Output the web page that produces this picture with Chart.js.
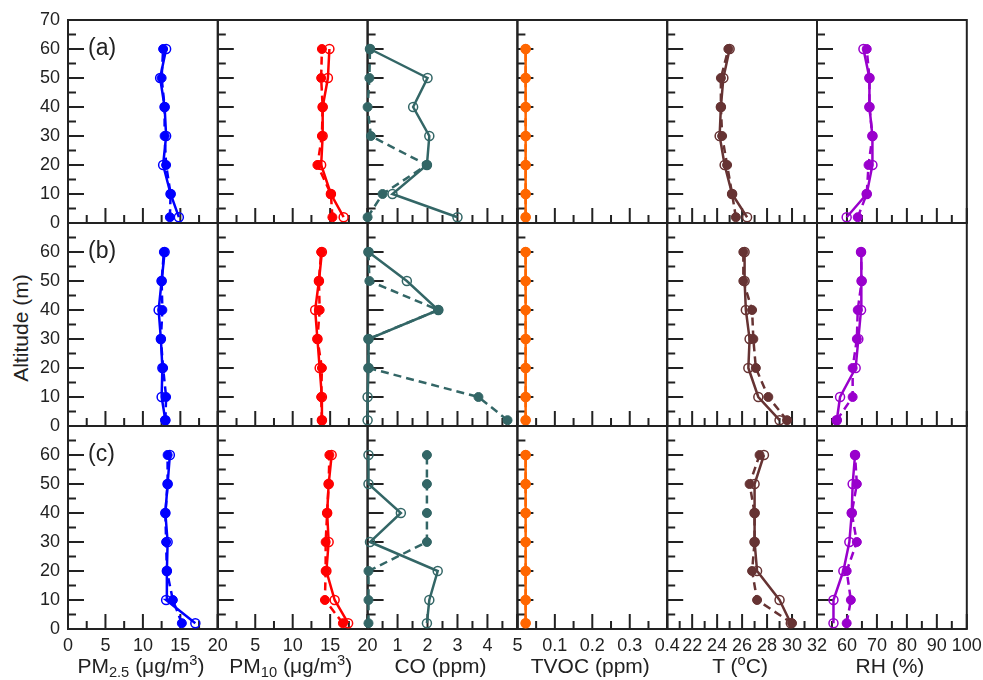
<!DOCTYPE html>
<html>
<head>
<meta charset="utf-8">
<script src="https://cdn.jsdelivr.net/npm/chart.js@4.4.0/dist/chart.umd.min.js"></script>
<style>
  body { margin: 0; background: #fff; }
  #wrap { position: relative; width: 983px; height: 680px; font-family: "Liberation Sans", Arial, sans-serif; color: #222; }
  #wrap canvas { position: absolute; left: 0; top: 0; }
  .xt { position: absolute; top: 655px; font-size: 21px; line-height: 22px; white-space: nowrap; transform: translateX(-50%); }
  .xt sub, .xt sup { font-size: 70%; line-height: 0; }
  .xt sub { vertical-align: -0.25em; }
  .xt sup { vertical-align: 0.55em; }
  .pl { position: absolute; left: 88px; font-size: 23px; line-height: 22px; }
  #ytitle { position: absolute; left: 21px; top: 328px; font-size: 21px; white-space: nowrap; transform: translate(-50%, -50%) rotate(-90deg); }
</style>
</head>
<body>
<div id="wrap">
  <div id="ytitle">Altitude (m)</div>
</div>
<script>
// altitude of each sample (m), bottom to top
const altitudes = [2, 10, 20, 30, 40, 50, 60];

// filled markers (dashed line) and open markers (solid line), rows (a) (b) (c)
const pm25_a_filled = [13.6, 13.7, 13.1, 12.9, 12.9, 12.5, 12.7];
const pm25_a_open   = [14.8, 13.7, 12.7, 13.1, 12.9, 12.3, 13.1];
const pm25_b_filled = [13.0, 13.1, 12.7, 12.4, 12.6, 12.5, 12.8];
const pm25_b_open   = [13.0, 12.5, 12.6, 12.4, 12.1, 12.5, 12.9];
const pm25_c_filled = [15.2, 14.0, 13.2, 13.1, 13.0, 13.3, 13.3];
const pm25_c_open   = [17.0, 13.1, 13.2, 13.3, 13.0, 13.3, 13.6];

const pm10_a_filled = [15.3, 15.1, 13.3, 13.9, 14.0, 13.8, 13.9];
const pm10_a_open   = [16.8, 15.1, 13.8, 14.0, 14.0, 14.7, 14.9];
const pm10_b_filled = [13.9, 13.8, 13.9, 13.3, 13.6, 13.5, 13.8];
const pm10_b_open   = [13.9, 13.9, 13.6, 13.3, 13.0, 13.5, 13.9];
const pm10_c_filled = [16.7, 14.3, 14.4, 14.4, 14.6, 14.8, 14.9];
const pm10_c_open   = [17.4, 15.6, 14.5, 14.8, 14.6, 14.8, 15.2];

const co_a_filled = [0.0, 0.5, 1.98, 0.11, 0.0, 0.06, 0.08];
const co_a_open   = [3.0, 0.83, 1.98, 2.06, 1.52, 2.0, 0.08];
const co_b_filled = [4.67, 3.7, 0.03, 0.03, 2.36, 0.06, 0.03];
const co_b_open   = [0.0, 0.0, 0.03, 0.03, 2.36, 1.31, 0.03];
const co_c_filled = [0.03, 0.03, 0.03, 1.98, 1.98, 1.98, 1.98];
const co_c_open   = [1.98, 2.06, 2.34, 0.08, 1.11, 0.03, 0.03];

const tvoc_a_filled = [0.022, 0.022, 0.022, 0.022, 0.022, 0.022, 0.022];
const tvoc_a_open   = [0.022, 0.022, 0.022, 0.022, 0.022, 0.022, 0.022];
const tvoc_b_filled = [0.022, 0.022, 0.022, 0.022, 0.022, 0.022, 0.022];
const tvoc_b_open   = [0.022, 0.022, 0.022, 0.022, 0.022, 0.022, 0.022];
const tvoc_c_filled = [0.022, 0.022, 0.022, 0.022, 0.022, 0.022, 0.022];
const tvoc_c_open   = [0.022, 0.022, 0.022, 0.022, 0.022, 0.022, 0.022];

const t_a_filled = [25.5, 25.2, 24.8, 24.4, 24.3, 24.3, 24.9];
const t_a_open   = [26.4, 25.2, 24.6, 24.2, 24.3, 24.5, 25.0];
const t_b_filled = [29.6, 28.1, 27.1, 26.9, 26.8, 26.1, 26.1];
const t_b_open   = [29.0, 27.3, 26.5, 26.6, 26.3, 26.2, 26.2];
const t_c_filled = [30.0, 27.2, 26.8, 27.0, 27.0, 26.6, 27.4];
const t_c_open   = [29.9, 29.0, 27.2, 27.0, 27.0, 27.0, 27.75];

const rh_a_filled = [63.6, 66.6, 67.2, 68.5, 67.5, 67.5, 66.6];
const rh_a_open   = [59.9, 66.6, 68.5, 68.5, 67.5, 67.5, 65.5];
const rh_b_filled = [56.6, 61.9, 61.9, 63.3, 63.6, 64.9, 64.7];
const rh_b_open   = [56.6, 57.7, 62.9, 63.8, 64.7, 64.9, 64.7];
const rh_c_filled = [59.9, 61.3, 59.9, 63.3, 61.6, 63.3, 62.7];
const rh_c_open   = [55.5, 55.5, 58.8, 60.8, 61.6, 61.9, 62.7];

const panelLabels = ['(a)', '(b)', '(c)'];
const axisTitles = ['PM<sub>2.5</sub> (\u03bcg/m<sup>3</sup>)', 'PM<sub>10</sub> (\u03bcg/m<sup>3</sup>)',
  'CO (ppm)', 'TVOC (ppm)', 'T (<sup>o</sup>C)', 'RH (%)'];

const columns = [
  { color: '#0000ff', min: 0, max: 20, step: 5,
    rows: [[pm25_a_filled, pm25_a_open], [pm25_b_filled, pm25_b_open], [pm25_c_filled, pm25_c_open]] },
  { color: '#ff0000', min: 0, max: 20, step: 5,
    rows: [[pm10_a_filled, pm10_a_open], [pm10_b_filled, pm10_b_open], [pm10_c_filled, pm10_c_open]] },
  { color: '#336666', min: 0, max: 5, step: 1,
    rows: [[co_a_filled, co_a_open], [co_b_filled, co_b_open], [co_c_filled, co_c_open]] },
  { color: '#ff6600', min: 0, max: 0.4, step: 0.1,
    rows: [[tvoc_a_filled, tvoc_a_open], [tvoc_b_filled, tvoc_b_open], [tvoc_c_filled, tvoc_c_open]] },
  { color: '#663333', min: 20, max: 32, step: 2,
    rows: [[t_a_filled, t_a_open], [t_b_filled, t_b_open], [t_c_filled, t_c_open]] },
  { color: '#9900cc', min: 50, max: 100, step: 10,
    rows: [[rh_a_filled, rh_a_open], [rh_b_filled, rh_b_open], [rh_c_filled, rh_c_open]] },
];

const W = 983, H = 680;
const gridTop = 20, rowH = 203, gridLeft = 68, colW = 149.8;
const yBox = 40, xBox = 30;   // fixed axis box sizes
const fontFamily = '"Liberation Sans", Arial, sans-serif';
const ink = '#222';

// frame and inward ticks for each panel
const frame = {
  id: 'frame',
  beforeDatasetsDraw(chart, args, opts) {
    const { ctx, chartArea: a, scales: { x, y } } = chart;
    ctx.save();
    ctx.strokeStyle = ink;
    ctx.lineWidth = 2;
    ctx.beginPath();
    const xMinor = opts.xStep / 2;
    for (let i = 0; x.min + i * xMinor <= x.max + 1e-9; i++) {
      const px = x.getPixelForValue(x.min + i * xMinor);
      const len = i % 2 === 0 ? 15 : 8;
      ctx.moveTo(px, a.bottom);
      ctx.lineTo(px, a.bottom - len);
    }
    for (let i = 0; i * 5 <= 70; i++) {
      const py = y.getPixelForValue(i * 5);
      const len = i % 2 === 0 ? 16 : 8;
      ctx.moveTo(a.left, py);
      ctx.lineTo(a.left + len, py);
    }
    ctx.stroke();
    ctx.strokeRect(a.left, a.top, a.right - a.left, a.bottom - a.top);
    ctx.restore();
  }
};

const toPoints = (vals) => vals.map((v, i) => ({ x: v, y: altitudes[i] }));
const fmt = (v) => String(Number(v.toFixed(3)));

const wrap = document.getElementById('wrap');

function makePanel(r, c) {
  const col = columns[c];
  const left = gridLeft + c * colW, right = left + colW;
  const top = gridTop + r * rowH, bottom = top + rowH;
  const [filled, open] = col.rows[r];

  const cv = document.createElement('canvas');
  cv.width = W;
  cv.height = H;
  wrap.appendChild(cv);

  return new Chart(cv, {
    type: 'scatter',
    data: {
      datasets: [
        {
          data: toPoints(filled),
          showLine: true,
          borderColor: col.color,
          borderWidth: 2.5,
          borderDash: [8, 5],
          pointRadius: 4.5,
          pointBackgroundColor: col.color,
          pointBorderColor: col.color,
          pointBorderWidth: 1,
          clip: false,
        },
        {
          data: toPoints(open),
          showLine: true,
          borderColor: col.color,
          borderWidth: 2.5,
          pointRadius: 4.5,
          pointBackgroundColor: 'rgba(255,255,255,0)',
          pointBorderColor: col.color,
          pointBorderWidth: 1.5,
          clip: false,
        }
      ]
    },
    options: {
      responsive: false,
      animation: false,
      events: [],
      layout: { padding: { left: left - yBox, top: top, right: W - right, bottom: H - bottom - xBox } },
      plugins: {
        legend: { display: false },
        tooltip: { enabled: false },
        frame: { xStep: col.step },
      },
      scales: {
        x: {
          type: 'linear',
          min: col.min,
          max: col.max,
          grid: { display: false, drawTicks: false },
          border: { display: false },
          ticks: {
            display: r === 2,
            stepSize: col.step,
            autoSkip: false,
            maxRotation: 0,
            padding: 6,
            color: ink,
            font: { size: 18, family: fontFamily },
            // the left panel's last label covers this panel's first one
            callback: (v) => (c > 0 && Math.abs(v - col.min) < 1e-9) ? '' : fmt(v),
          },
          afterFit: (s) => { s.height = xBox; s.paddingLeft = 0; s.paddingRight = 0; },
        },
        y: {
          type: 'linear',
          min: 0,
          max: 70,
          grid: { display: false, drawTicks: false },
          border: { display: false },
          ticks: {
            display: c === 0,
            stepSize: 10,
            autoSkip: false,
            padding: 8,
            color: ink,
            font: { size: 18, family: fontFamily },
            callback: (v) => (r > 0 && v === 70) ? '' : fmt(v),
          },
          afterFit: (s) => { s.width = yBox; s.paddingTop = 0; s.paddingBottom = 0; },
        }
      }
    },
    plugins: [frame]
  });
}

for (let r = 0; r < 3; r++) {
  for (let c = 0; c < columns.length; c++) makePanel(r, c);
}

// panel letters and axis titles as text
panelLabels.forEach((txt, r) => {
  const d = document.createElement('div');
  d.className = 'pl';
  d.style.top = (36 + r * rowH) + 'px';
  d.textContent = txt;
  wrap.appendChild(d);
});
axisTitles.forEach((html, c) => {
  const d = document.createElement('div');
  d.className = 'xt';
  d.style.left = (gridLeft + c * colW + colW / 2 - 2) + 'px';
  d.innerHTML = html;
  wrap.appendChild(d);
});
</script>
</body>
</html>
